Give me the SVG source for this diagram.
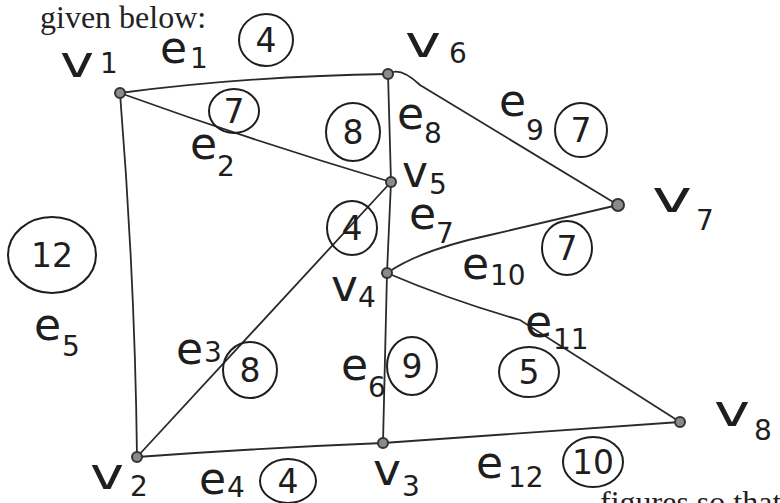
<svg xmlns="http://www.w3.org/2000/svg" width="780" height="503" viewBox="0 0 780 503">
<style>
.edge{stroke:#2a2a2a;stroke-width:1.8;fill:none;stroke-linecap:round}
.node{fill:#8a8a8a;stroke:#333;stroke-width:2}
.w{fill:none;stroke:#1e1e1e;stroke-width:2}
.wt{font-family:"DejaVu Sans",sans-serif;font-size:33px;fill:#1e1e1e;text-anchor:middle}
.v{font-family:"DejaVu Sans",sans-serif;font-size:44px;fill:#1e1e1e}
.e{font-family:"DejaVu Sans",sans-serif;font-size:44px;fill:#1e1e1e}
.s{font-size:28px}
.print{font-family:"Liberation Serif",serif;font-size:32px;fill:#222}
</style>
<rect width="780" height="503" fill="#ffffff"/>
<text class="print" x="40" y="28">given below:</text>
<text class="print" x="600" y="513">figures so that</text>

<g id="connectors">
<path class="edge" d="M120,93 Q250,76 388,74"/>
<path class="edge" d="M120,93 Q250,140 391,182"/>
<path class="edge" d="M120,93 Q135,280 137,457"/>
<path class="edge" d="M137,457 L391,182"/>
<path class="edge" d="M137,457 Q260,448 383,443"/>
<path class="edge" d="M388,74 L391,182"/>
<path class="edge" d="M388,74 Q400,66 420,85 L618,205"/>
<path class="edge" d="M391,182 L387,273"/>
<path class="edge" d="M387,273 Q420,250 490,235 L618,205"/>
<path class="edge" d="M387,273 Q450,300 520,320 L680,422"/>
<path class="edge" d="M387,273 L383,443"/>
<path class="edge" d="M383,443 Q530,433 680,422"/>
</g>

<g id="v1"><circle class="node" cx="120" cy="93" r="5"/><text class="v"><tspan x="60" y="77" textLength="34" lengthAdjust="spacingAndGlyphs">v</tspan><tspan class="s" x="100" y="73">1</tspan></text></g>
<g id="v2"><circle class="node" cx="137" cy="457" r="5"/><text class="v"><tspan x="90" y="489" textLength="34" lengthAdjust="spacingAndGlyphs">v</tspan><tspan class="s" x="130" y="496">2</tspan></text></g>
<g id="v3"><circle class="node" cx="383" cy="443" r="5"/><text class="v"><tspan x="373" y="485" textLength="28" lengthAdjust="spacingAndGlyphs">v</tspan><tspan class="s" x="402" y="496">3</tspan></text></g>
<g id="v4"><circle class="node" cx="387" cy="273" r="5"/><text class="v"><tspan x="331" y="301" textLength="27" lengthAdjust="spacingAndGlyphs">v</tspan><tspan class="s" x="358" y="307">4</tspan></text></g>
<g id="v5"><circle class="node" cx="391" cy="182" r="5"/><text class="v"><tspan x="402" y="187" textLength="26" lengthAdjust="spacingAndGlyphs">v</tspan><tspan class="s" x="429" y="194">5</tspan></text></g>
<g id="v6"><circle class="node" cx="388" cy="74" r="5"/><text class="v"><tspan x="405" y="57" textLength="36" lengthAdjust="spacingAndGlyphs">v</tspan><tspan class="s" x="449" y="63">6</tspan></text></g>
<g id="v7"><circle class="node" cx="618" cy="205" r="6"/><text class="v"><tspan x="652" y="212" textLength="40" lengthAdjust="spacingAndGlyphs">v</tspan><tspan class="s" x="696" y="230">7</tspan></text></g>
<g id="v8"><circle class="node" cx="680" cy="422" r="5"/><text class="v"><tspan x="714" y="426" textLength="36" lengthAdjust="spacingAndGlyphs">v</tspan><tspan class="s" x="754" y="440">8</tspan></text></g>

<g id="e1"><text class="e"><tspan x="160" y="63">e</tspan><tspan class="s" x="190" y="68">1</tspan></text><ellipse class="w" cx="266" cy="40" rx="27" ry="26"/><text class="wt" x="266" y="52">4</text></g>
<g id="e2"><text class="e"><tspan x="190" y="159">e</tspan><tspan class="s" x="217" y="176">2</tspan></text><ellipse class="w" cx="234" cy="111" rx="25" ry="22"/><text class="wt" x="234" y="123">7</text></g>
<g id="e3"><text class="e"><tspan x="176" y="364">e</tspan><tspan class="s" x="204" y="362">3</tspan></text><ellipse class="w" cx="250" cy="370" rx="27" ry="28"/><text class="wt" x="250" y="382">8</text></g>
<g id="e3w"><ellipse class="w" cx="352" cy="228" rx="25" ry="27"/><text class="wt" x="352" y="240">4</text></g>
<g id="e4"><text class="e"><tspan x="199" y="494">e</tspan><tspan class="s" x="227" y="497">4</tspan></text><ellipse class="w" cx="288" cy="481" rx="28" ry="22"/><text class="wt" x="288" y="493">4</text></g>
<g id="e5"><ellipse class="w" cx="52" cy="255" rx="44" ry="38"/><text class="wt" x="52" y="267">12</text><text class="e"><tspan x="34" y="340">e</tspan><tspan class="s" x="62" y="356">5</tspan></text></g>
<g id="e6"><text class="e"><tspan x="341" y="380">e</tspan><tspan class="s" x="368" y="397">6</tspan></text><ellipse class="w" cx="412" cy="366" rx="25" ry="29"/><text class="wt" x="412" y="378">9</text></g>
<g id="e7"><text class="e"><tspan x="409" y="229">e</tspan><tspan class="s" x="436" y="243">7</tspan></text></g>
<g id="e8"><ellipse class="w" cx="353" cy="132" rx="27" ry="29"/><text class="wt" x="353" y="144">8</text><text class="e"><tspan x="397" y="129">e</tspan><tspan class="s" x="424" y="143">8</tspan></text></g>
<g id="e9"><text class="e"><tspan x="499" y="116">e</tspan><tspan class="s" x="526" y="140">9</tspan></text><ellipse class="w" cx="581" cy="130" rx="26" ry="27"/><text class="wt" x="581" y="142">7</text></g>
<g id="e10"><text class="e"><tspan x="462" y="279">e</tspan><tspan class="s" x="490" y="285">10</tspan></text><ellipse class="w" cx="567" cy="248" rx="25" ry="27"/><text class="wt" x="567" y="260">7</text></g>
<g id="e11"><text class="e"><tspan x="525" y="337">e</tspan><tspan class="s" x="553" y="349">11</tspan></text><ellipse class="w" cx="529" cy="372" rx="30" ry="25"/><text class="wt" x="529" y="384">5</text></g>
<g id="e12"><text class="e"><tspan x="476" y="478">e</tspan><tspan class="s" x="508" y="487">12</tspan></text><ellipse class="w" cx="593" cy="462" rx="30" ry="25"/><text class="wt" x="593" y="474">10</text></g>
</svg>
